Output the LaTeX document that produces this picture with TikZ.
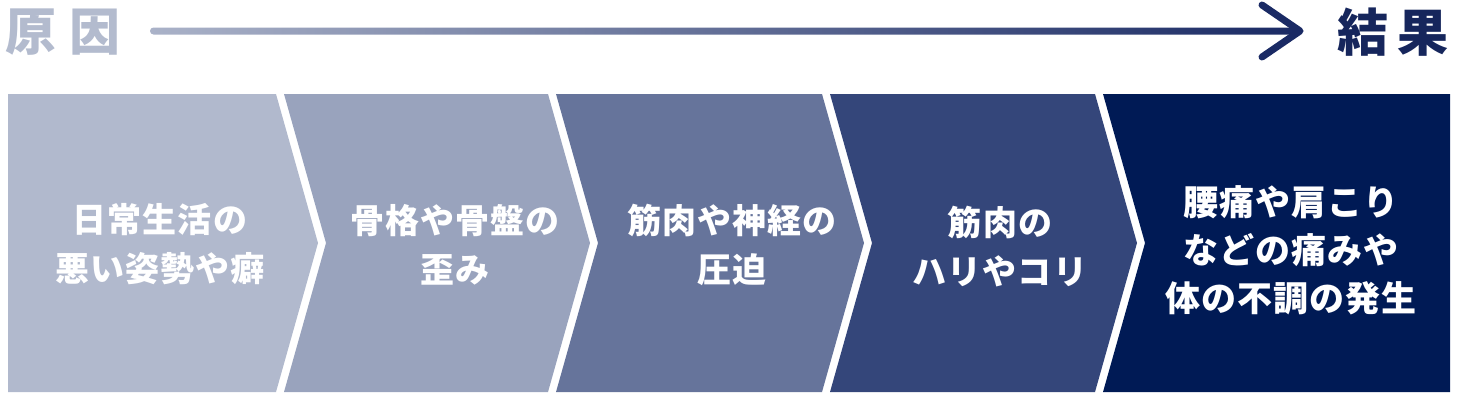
\documentclass[tikz,border=0pt]{standalone}
\usepackage{fontspec}
\usepackage{tikz}
\usepackage{xcolor}
\usetikzlibrary{positioning, calc}
\newfontfamily\jpfont{Noto Sans CJK JP}[LetterSpace=3]
\newfontfamily\jphead{Noto Sans CJK JP}
\definecolor{stageone}{RGB}{177,185,205}
\definecolor{stagetwo}{RGB}{153,163,189}
\definecolor{stagethree}{RGB}{102,116,155}
\definecolor{stagefour}{RGB}{52,70,122}
\definecolor{stagefive}{RGB}{0,26,85}
\definecolor{causegrey}{RGB}{179,187,206}
\definecolor{effectnavy}{RGB}{22,38,92}
\definecolor{arrowlight}{RGB}{170,178,200}
\definecolor{arrowdark}{RGB}{26,42,100}

\begin{document}
\begin{tikzpicture}[x=1pt, y=-1pt,
  headtext/.style={font=\jphead\bfseries\fontsize{51}{51}\selectfont, inner sep=0pt},
  stagetext/.style={text=white, align=center, inner sep=0pt, font=\jpfont\bfseries\fontsize{34}{49}\selectfont}]
\useasboundingbox (0,0) rectangle (1458,402);

% Timeline
\node[headtext, text=causegrey] (cause) at (63,32) {原\hspace{13pt}因};
\node[headtext, text=effectnavy] (effect) at (1393,32) {結\hspace{9pt}果};
\coordinate (arrstart) at (150,31);
\coordinate (arrtip) at (1300,31);
\shade[left color=arrowlight, right color=arrowdark, rounded corners=3.5pt]
  ($(arrstart)+(0,-3.5)$) rectangle ($(arrtip)+(-2,3.5)$);
\draw[arrowdark, line width=7pt, line cap=round, line join=round]
  ($(arrtip)+(-38,-26)$) -- (arrtip) -- ($(arrtip)+(-38,26)$);

% Stages
\fill[stageone] (8,94) -- (276,94) -- (318,243) -- (276,392) -- (8,392) -- cycle;
\node[stagetext] (s1) at (160,244.5) {日常生活の\\悪い姿勢や癖};

\fill[stagetwo] (284,94) -- (548,94) -- (590,243) -- (548,392) -- (284,392) -- (326,243) -- cycle;
\node[stagetext] (s2) at (455,244.5) {骨格や骨盤の\\歪み};

\fill[stagethree] (556,94) -- (822,94) -- (864,243) -- (822,392) -- (556,392) -- (598,243) -- cycle;
\node[stagetext] (s3) at (732,244.5) {筋肉や神経の\\圧迫};

\fill[stagefour] (830,94) -- (1095,94) -- (1137,243) -- (1095,392) -- (830,392) -- (872,243) -- cycle;
\node[stagetext] (s4) at (1000,247) {筋肉の\\ハリやコリ};

\fill[stagefive] (1103,94) -- (1450,94) -- (1450,392) -- (1103,392) -- (1145,243) -- cycle;
\node[stagetext, font=\jpfont\bfseries\fontsize{35}{48}\selectfont] (s5) at (1291,250) {腰痛や肩こり\\などの痛みや\\体の不調の発生};
\end{tikzpicture}
\end{document}
